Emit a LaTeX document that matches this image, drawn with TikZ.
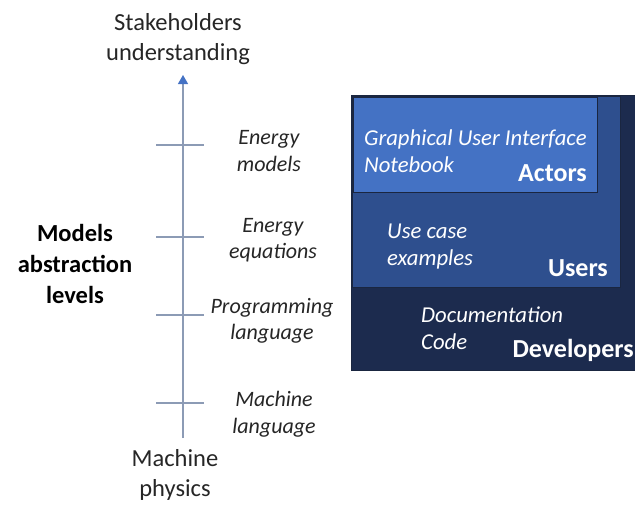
\documentclass[tikz,border=0pt]{standalone}
\usepackage{fontspec}
\setmainfont{Carlito}
\usetikzlibrary{arrows.meta}
\definecolor{axisgray}{HTML}{8C9BB5}
\definecolor{arrowblue}{HTML}{4472C4}
\definecolor{actorsblue}{HTML}{4472C4}
\definecolor{usersblue}{HTML}{2E4F8E}
\definecolor{devblue}{HTML}{1C2B4E}
\definecolor{edgeblue}{HTML}{1A2640}
\definecolor{textgray}{HTML}{262626}
\tikzset{
  axisline/.style={draw=axisgray, line width=1.2pt},
  tickline/.style={draw=axisgray, line width=1.2pt},
  endlabel/.style={align=center, inner sep=0pt, text=textgray, font=\fontsize{24.5}{30}\selectfont},
  levellabel/.style={align=center, inner sep=0pt, text=textgray, font=\fontsize{22}{26.5}\selectfont\itshape},
  titlelabel/.style={align=center, inner sep=0pt, text=black, font=\fontsize{24.5}{31}\selectfont\bfseries},
  boxtext/.style={align=left, inner sep=0pt, text=white, font=\fontsize{22.7}{27}\selectfont\itshape},
  boxtitle/.style={inner sep=0pt, text=white, font=\fontsize{26}{30}\selectfont\bfseries},
  layerbox/.style={draw=edgeblue, line width=0.8pt}
}
\begin{document}
\begin{tikzpicture}[x=1pt,y=-1pt]
\useasboundingbox (0,0) rectangle (635,507);
\begin{scope}
\clip (0,0) rectangle (635,507);
% boxes
\path[layerbox, fill=devblue] (351,95) rectangle (660,370);
\path[layerbox, fill=usersblue] (352,96) rectangle (620,287);
\path[layerbox, fill=actorsblue] (353,97) rectangle (597,192);
\node[boxtext, anchor=west] (gui) at (364,151.5) {Graphical User Interface\\Notebook};
\node[boxtitle, anchor=east] (actors) at (587,173) {Actors};
\node[boxtext, anchor=west] (usecase) at (387,247) {Use case\\examples};
\node[boxtitle, anchor=east] (users) at (608,268) {Users};
\node[boxtext, anchor=west] (doc) at (421,328) {Documentation\\Code};
\node[boxtitle, anchor=east] (dev) at (634,350) {Developers};
\end{scope}
% axis
\coordinate (abot) at (183,438);
\coordinate (atop) at (183,75);
\draw[axisline, -{Triangle[length=9pt,width=10pt,fill=arrowblue,color=arrowblue]}] (abot) -- (atop);
\foreach \y/\n in {145/a,237/b,315/c,403/d}{
  \coordinate (tl\n) at (156,\y);
  \coordinate (tr\n) at (204,\y);
  \draw[tickline] (tl\n) -- (tr\n);
}
% labels
\node[endlabel] (stake) at (178,39) {Stakeholders\\understanding};
\node[endlabel] (phys) at (175,475) {Machine\\physics};
\node[titlelabel] (mal) at (75,264) {Models\\abstraction\\levels};
\node[levellabel] (em) at (269,151) {Energy\\models};
\node[levellabel] (ee) at (273,240) {Energy\\equations};
\node[levellabel] (pl) at (272,321) {Programming\\language};
\node[levellabel] (ml) at (274,414) {Machine\\language};
\end{tikzpicture}
\end{document}
